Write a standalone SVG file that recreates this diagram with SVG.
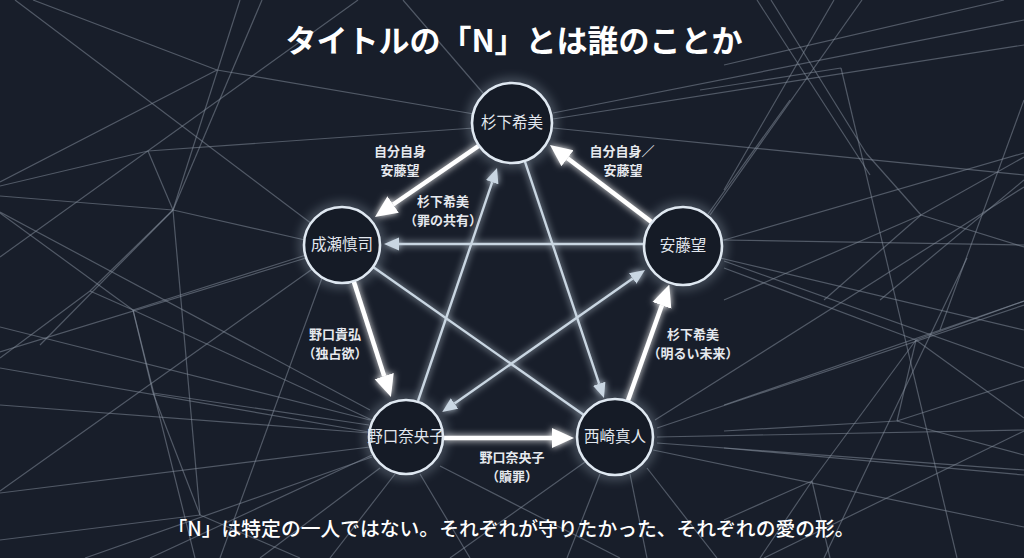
<svg xmlns="http://www.w3.org/2000/svg" width="1024" height="558" viewBox="0 0 1024 558">
<style>
.bg{fill:#181e2a}
.web line{stroke:#8a93a1;stroke-width:1.2;opacity:0.5;fill:none}
.node circle{fill:#151b26;stroke:#dfe8f1;stroke-width:2.6}
.node text{font-family:"Noto Sans CJK JP","Noto Sans",sans-serif;font-size:15.5px;fill:#e2e7ee;text-anchor:middle;font-weight:400}
.thick{stroke:#ffffff;stroke-width:4.5;fill:none}
.thin{stroke:#c9d6e2;stroke-width:2.4;fill:none}
.elabel text{font-family:"Noto Sans CJK JP","Noto Sans",sans-serif;font-size:13px;fill:#e6e9ee;text-anchor:middle;font-weight:700}
.title{font-family:"Noto Sans CJK JP","Noto Sans",sans-serif;font-size:31px;fill:#ffffff;text-anchor:middle;font-weight:700}
.caption{font-family:"Noto Sans CJK JP","Noto Sans",sans-serif;font-size:19.8px;fill:#ffffff;text-anchor:middle;font-weight:500}
</style>
<defs>
<filter id="glow" x="-50%" y="-50%" width="200%" height="200%">
<feGaussianBlur in="SourceGraphic" stdDeviation="3.5" result="b"/>
<feMerge><feMergeNode in="b"/><feMergeNode in="SourceGraphic"/></feMerge>
</filter>
<filter id="halo" x="-60%" y="-60%" width="220%" height="220%">
<feGaussianBlur in="SourceGraphic" stdDeviation="6"/>
</filter>
<marker id="ahThick" markerUnits="userSpaceOnUse" markerWidth="22" markerHeight="22" viewBox="0 -11 22 22" refX="0" refY="0" orient="auto">
<path d="M0,-10 L22,0 L0,10 Z" fill="#ffffff"/>
</marker>
<marker id="ahThin" markerUnits="userSpaceOnUse" markerWidth="15" markerHeight="14" viewBox="0 -7 15 14" refX="0" refY="0" orient="auto-start-reverse">
<path d="M0,-6.5 L15,0 L0,6.5 Z" fill="#c9d6e2"/>
</marker>
</defs>
<rect class="bg" x="0" y="0" width="1024" height="558"/>
<g class="web" id="background-web">
<line x1="33" y1="0" x2="217" y2="70"/>
<line x1="0" y1="182" x2="217" y2="70"/>
<line x1="240" y1="0" x2="173" y2="210"/>
<line x1="262" y1="0" x2="173" y2="210"/>
<line x1="217" y1="70" x2="474" y2="114"/>
<line x1="15" y1="0" x2="312" y2="224"/>
<line x1="0" y1="186" x2="148" y2="151"/>
<line x1="148" y1="151" x2="474" y2="128"/>
<line x1="148" y1="151" x2="173" y2="210"/>
<line x1="0" y1="196" x2="173" y2="210"/>
<line x1="173" y1="210" x2="305" y2="240"/>
<line x1="173" y1="210" x2="40" y2="345"/>
<line x1="173" y1="210" x2="200" y2="515"/>
<line x1="358" y1="0" x2="0" y2="257"/>
<line x1="0" y1="213" x2="133" y2="310"/>
<line x1="0" y1="358" x2="90" y2="291"/>
<line x1="90" y1="291" x2="173" y2="210"/>
<line x1="90" y1="291" x2="133" y2="310"/>
<line x1="133" y1="310" x2="306" y2="255"/>
<line x1="133" y1="310" x2="372" y2="420"/>
<line x1="133" y1="310" x2="153" y2="393"/>
<line x1="153" y1="393" x2="200" y2="515"/>
<line x1="133" y1="310" x2="195" y2="558"/>
<line x1="0" y1="368" x2="369" y2="432"/>
<line x1="0" y1="491" x2="318" y2="265"/>
<line x1="0" y1="352" x2="306" y2="258"/>
<line x1="322" y1="278" x2="220" y2="558"/>
<line x1="372" y1="455" x2="150" y2="558"/>
<line x1="153" y1="393" x2="369" y2="425"/>
<line x1="370" y1="410" x2="0" y2="212"/>
<line x1="370" y1="420" x2="0" y2="327"/>
<line x1="370" y1="433" x2="0" y2="405"/>
<line x1="370" y1="447" x2="0" y2="493"/>
<line x1="372" y1="457" x2="85" y2="558"/>
<line x1="200" y1="515" x2="0" y2="540"/>
<line x1="200" y1="515" x2="300" y2="558"/>
<line x1="380" y1="468" x2="260" y2="558"/>
<line x1="395" y1="474" x2="330" y2="558"/>
<line x1="420" y1="474" x2="470" y2="558"/>
<line x1="440" y1="466" x2="620" y2="558"/>
<line x1="585" y1="462" x2="450" y2="558"/>
<line x1="600" y1="474" x2="567" y2="558"/>
<line x1="630" y1="474" x2="647" y2="558"/>
<line x1="647" y1="468" x2="717" y2="558"/>
<line x1="403" y1="0" x2="483" y2="93"/>
<line x1="553" y1="113" x2="1024" y2="20"/>
<line x1="553" y1="119" x2="1024" y2="45"/>
<line x1="553" y1="128" x2="1024" y2="175"/>
<line x1="724" y1="65" x2="1004" y2="0"/>
<line x1="700" y1="90" x2="841" y2="68"/>
<line x1="757" y1="0" x2="870" y2="175"/>
<line x1="771" y1="0" x2="866" y2="153"/>
<line x1="866" y1="153" x2="921" y2="215"/>
<line x1="834" y1="0" x2="724" y2="190"/>
<line x1="862" y1="0" x2="710" y2="215"/>
<line x1="841" y1="68" x2="957" y2="558"/>
<line x1="724" y1="240" x2="1024" y2="153"/>
<line x1="1024" y1="157" x2="921" y2="215"/>
<line x1="921" y1="215" x2="724" y2="300"/>
<line x1="921" y1="215" x2="1024" y2="247"/>
<line x1="921" y1="215" x2="824" y2="300"/>
<line x1="1024" y1="180" x2="880" y2="300"/>
<line x1="655" y1="420" x2="1024" y2="187"/>
<line x1="657" y1="428" x2="1024" y2="305"/>
<line x1="657" y1="437" x2="1024" y2="430"/>
<line x1="657" y1="443" x2="1024" y2="470"/>
<line x1="653" y1="450" x2="1024" y2="527"/>
<line x1="722" y1="240" x2="1024" y2="245"/>
<line x1="720" y1="258" x2="1024" y2="330"/>
<line x1="708" y1="214" x2="790" y2="100"/>
<line x1="724" y1="268" x2="916" y2="340"/>
<line x1="916" y1="340" x2="1024" y2="301"/>
<line x1="916" y1="340" x2="1024" y2="418"/>
<line x1="916" y1="340" x2="897" y2="421"/>
<line x1="916" y1="340" x2="812" y2="481"/>
<line x1="724" y1="431" x2="897" y2="421"/>
<line x1="897" y1="421" x2="1024" y2="455"/>
<line x1="897" y1="421" x2="1024" y2="380"/>
<line x1="812" y1="481" x2="724" y2="520"/>
<line x1="812" y1="481" x2="760" y2="558"/>
<line x1="812" y1="481" x2="830" y2="558"/>
<line x1="724" y1="405" x2="1024" y2="301"/>
<line x1="724" y1="261" x2="1024" y2="368"/>
<line x1="724" y1="448" x2="1024" y2="475"/>
<line x1="967" y1="258" x2="824" y2="558"/>
<line x1="1024" y1="431" x2="764" y2="558"/>
<line x1="1024" y1="100" x2="940" y2="330"/>
</g>
<g id="node-glows" filter="url(#halo)" opacity="0.55">
<circle cx="512" cy="123" r="40" fill="none" stroke="#cfe0ee" stroke-width="5"/>
<circle cx="342" cy="245" r="38" fill="none" stroke="#cfe0ee" stroke-width="5"/>
<circle cx="683" cy="246" r="39" fill="none" stroke="#cfe0ee" stroke-width="5"/>
<circle cx="406" cy="437" r="37" fill="none" stroke="#cfe0ee" stroke-width="5"/>
<circle cx="615" cy="437" r="38" fill="none" stroke="#cfe0ee" stroke-width="5"/>
</g>
<g id="connectors" filter="url(#glow)">
<line class="thick" x1="479" y1="145.6" x2="393.1" y2="204.5" marker-end="url(#ahThick)"/>
<line class="thick" x1="652" y1="222.4" x2="567.5" y2="158.3" marker-end="url(#ahThick)"/>
<line class="thin" x1="644" y1="244" x2="399" y2="244" marker-end="url(#ahThin)"/>
<line class="thin" x1="418" y1="401" x2="492.2" y2="182.2" marker-end="url(#ahThin)"/>
<line class="thin" x1="524.7" y1="160.9" x2="599.2" y2="383.8" marker-end="url(#ahThin)"/>
<line class="thick" x1="353.7" y1="281.2" x2="384.2" y2="376.1" marker-end="url(#ahThick)"/>
<line class="thin" x1="373.1" y1="266.9" x2="583.9" y2="415.1"/>
<line class="thin" x1="632.7" y1="278.5" x2="454.5" y2="403.5" marker-start="url(#ahThin)" marker-end="url(#ahThin)"/>
<line class="thick" x1="444" y1="438" x2="552" y2="438" marker-end="url(#ahThick)"/>
<line class="thick" x1="627.7" y1="401.2" x2="661.9" y2="305.3" marker-end="url(#ahThick)"/>
</g>
<g id="edge-labels" class="elabel">
<text x="400" y="156">自分自身</text>
<text x="400" y="175">安藤望</text>
<text x="443" y="206">杉下希美</text>
<text x="443" y="225">（罪の共有）</text>
<text x="622" y="156">自分自身／</text>
<text x="623" y="175">安藤望</text>
<text x="335" y="339">野口貴弘</text>
<text x="335" y="358">（独占欲）</text>
<text x="693" y="339">杉下希美</text>
<text x="693" y="358">（明るい未来）</text>
<text x="512" y="462">野口奈央子</text>
<text x="512" y="481">（贖罪）</text>
</g>
<g id="node-sugishita" class="node"><circle cx="512" cy="123" r="40"/><text x="512" y="128">杉下希美</text></g>
<g id="node-naruse" class="node"><circle cx="342" cy="245" r="38"/><text x="342" y="250">成瀬慎司</text></g>
<g id="node-ando" class="node"><circle cx="683" cy="246" r="39"/><text x="683" y="251">安藤望</text></g>
<g id="node-noguchi" class="node"><circle cx="406" cy="437" r="37"/><text x="406" y="442">野口奈央子</text></g>
<g id="node-nishizaki" class="node"><circle cx="615" cy="437" r="38"/><text x="615" y="442">西崎真人</text></g>
<text class="title" x="514" y="52">タイトルの「N」とは誰のことか</text>
<text class="caption" x="511" y="536">「N」は特定の一人ではない。それぞれが守りたかった、それぞれの愛の形。</text>
</svg>
